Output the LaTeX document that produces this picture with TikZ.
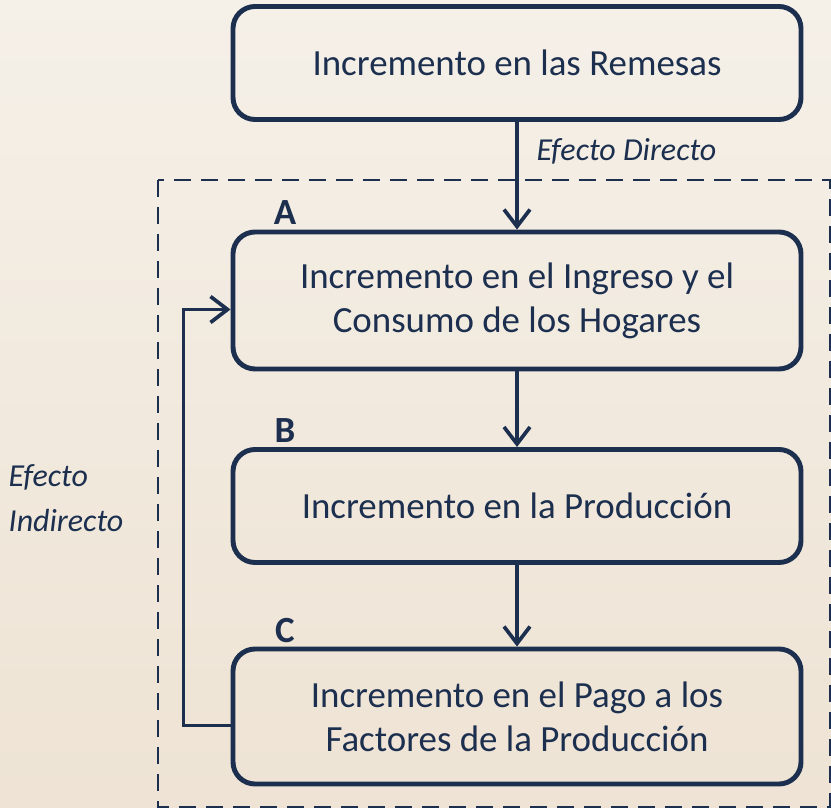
\documentclass[tikz,border=0pt]{standalone}
\usepackage{fontspec}
\setmainfont{Carlito}
\usetikzlibrary{arrows.meta}
\definecolor{navy}{HTML}{1C2F4F}
\definecolor{bgtop}{HTML}{F5F0E8}
\definecolor{bgbot}{HTML}{EEE3D4}
\begin{document}
\begin{tikzpicture}[
        box/.style={draw=navy, line width=1.4pt, rounded corners=0.22cm, minimum width=5.68cm, text=navy, align=center, font=\fontsize{10.5}{12.5}\selectfont},
        lbl/.style={text=navy, font=\fontsize{10.5}{12.5}\selectfont\bfseries},
        eff/.style={text=navy, font=\fontsize{9.1}{12.8}\selectfont\itshape},
        arr/.style={draw=navy, line width=1.05pt, -{Straight Barb[length=0.17cm, width=0.26cm]}}
    ]
        % background
        \fill[top color=bgtop, bottom color=bgbot] (0,0) rectangle (8.31,8.08);
        \useasboundingbox (0,0) rectangle (8.31,8.08);
        % dashed frame of the indirect effect
        \draw[navy, line width=0.85pt, dash pattern=on 0.17cm off 0.1cm] (1.58,6.28) rectangle (8.30,0.01);
        \node[eff, align=left, anchor=west, inner sep=0pt] (ind) at (0.08,3.10) {Efecto\\Indirecto};
        % boxes
        \node[box, minimum height=1.13cm] (rem) at (5.17,7.45) {Incremento en las Remesas};
        \node[box, minimum height=1.37cm] (ing) at (5.17,5.075) {Incremento en el Ingreso y el\\Consumo de los Hogares};
        \node[box, minimum height=1.13cm] (pro) at (5.17,3.02) {Incremento en la Producción};
        \node[box, minimum height=1.35cm] (fac) at (5.17,0.915) {Incremento en el Pago a los\\Factores de la Producción};
        % letters
        \node[lbl] (la) at (2.85,5.95) {A};
        \node[lbl] (lb) at (2.85,3.77) {B};
        \node[lbl] (lc) at (2.85,1.775) {C};
        % direct effect
        \draw[arr] (rem) -- node[eff, right=0.06cm, pos=0.27] (dir) {Efecto Directo} (ing);
        % chain A to B to C
        \draw[arr] (ing) -- (pro);
        \draw[arr] (pro) -- (fac);
        % feedback from C to A
        \draw[arr] ([yshift=-0.09cm]fac.west) -- ++(-0.47,0) |- ([yshift=-0.09cm]ing.west);
    \end{tikzpicture}
\end{document}
